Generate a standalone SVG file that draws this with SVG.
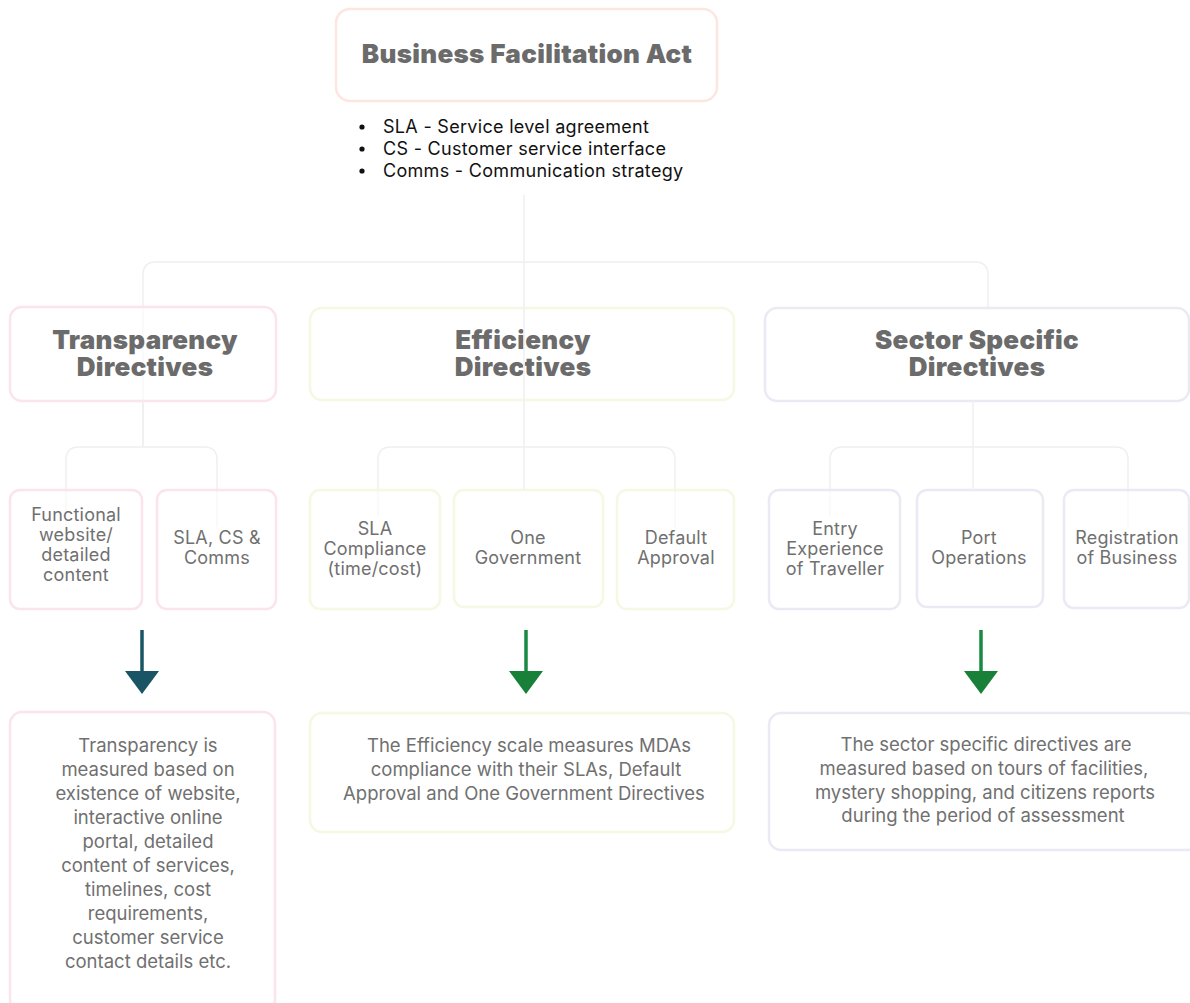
<svg xmlns="http://www.w3.org/2000/svg" width="1190" height="1003" viewBox="0 0 1190 1003">
<style>
.title{font-family:Inter,"Liberation Sans",sans-serif;font-weight:900;font-size:26px;letter-spacing:0.3px;fill:#6b6b6b;text-anchor:middle}
.txt{font-family:Inter,"Liberation Sans",sans-serif;font-size:18.5px;fill:#707070;text-anchor:middle}
.ch{font-family:Inter,"Liberation Sans",sans-serif;font-size:18px;letter-spacing:0.2px;fill:#707070;text-anchor:middle}
.bul{font-family:Inter,"Liberation Sans",sans-serif;font-size:18px;letter-spacing:0.3px;fill:#111}
.box{fill:#fff;stroke-width:2.5}
.t{stroke:#fbe4ec}
.e{stroke:#f5f8e2}
.s{stroke:#ece9f5}
.top{stroke:#fde6e0}
.conn{fill:none;stroke:#efefef;stroke-width:1.5}
</style>
<rect width="1190" height="1003" fill="#fff"/>
<g id="connectors">
<path class="conn" d="M524 195V262"/>
<path class="conn" d="M143 447V275Q143 262 156 262H975Q988 262 988 275V310"/>
<path class="conn" d="M66 527V460Q66 447 79 447H204Q217 447 217 460V527"/>
<path class="conn" d="M378 517V460Q378 447 391 447H662Q675 447 675 460V527"/>
<path class="conn" d="M830 517V460Q830 447 843 447H1115Q1128 447 1128 460V527"/>
</g>
<g id="top">
<rect class="box top" x="336" y="9" width="381" height="92" rx="14"/>
<text class="title" x="527" y="63">Business Facilitation Act</text>
</g>
<g id="legend">
<circle cx="362" cy="127" r="2.6" fill="#111"/>
<circle cx="362" cy="149" r="2.6" fill="#111"/>
<circle cx="362" cy="171" r="2.6" fill="#111"/>
<text class="bul" x="383" y="133">SLA - Service level agreement</text>
<text class="bul" x="383" y="155">CS - Customer service interface</text>
<text class="bul" x="383" y="177">Comms - Communication strategy</text>
</g>
<g id="transparency">
<rect class="box t" x="10" y="307" width="266" height="94" rx="12" fill-opacity="0.6"/>
<text class="title" x="145" y="349">Transparency</text>
<text class="title" x="145" y="376">Directives</text>
</g>
<g id="efficiency">
<rect class="box e" x="310" y="308" width="424" height="92" rx="12" fill-opacity="0.6"/>
<text class="title" x="523" y="349">Efficiency</text>
<text class="title" x="523" y="376">Directives</text>
</g>
<g id="sector">
<rect class="box s" x="765" y="308" width="424" height="93" rx="12" fill-opacity="0.6"/>
<text class="title" x="977" y="349">Sector Specific</text>
<text class="title" x="977" y="376">Directives</text>
</g>
<g id="t-functional">
<rect class="box t" x="10" y="490" width="132" height="119" rx="10" fill-opacity="0.6"/>
<text class="ch" x="76" y="521">Functional</text>
<text class="ch" x="76" y="541">website/</text>
<text class="ch" x="76" y="561">detailed</text>
<text class="ch" x="76" y="581">content</text>
</g>
<g id="t-sla">
<rect class="box t" x="157" y="490" width="119" height="119" rx="10" fill-opacity="0.6"/>
<text class="ch" x="217" y="544">SLA, CS &amp;</text>
<text class="ch" x="217" y="564">Comms</text>
</g>
<g id="e-sla">
<rect class="box e" x="310" y="490" width="130" height="119" rx="10" fill-opacity="0.6"/>
<text class="ch" x="375" y="535">SLA</text>
<text class="ch" x="375" y="555">Compliance</text>
<text class="ch" x="375" y="575">(time/cost)</text>
</g>
<g id="e-one">
<rect class="box e" x="454" y="490" width="149" height="117" rx="10" fill-opacity="0.6"/>
<text class="ch" x="528" y="544">One</text>
<text class="ch" x="528" y="564">Government</text>
</g>
<g id="e-default">
<rect class="box e" x="617" y="490" width="117" height="119" rx="10" fill-opacity="0.6"/>
<text class="ch" x="676" y="544">Default</text>
<text class="ch" x="676" y="564">Approval</text>
</g>
<g id="s-entry">
<rect class="box s" x="769" y="490" width="131" height="119" rx="10" fill-opacity="0.6"/>
<text class="ch" x="835" y="535">Entry</text>
<text class="ch" x="835" y="555">Experience</text>
<text class="ch" x="835" y="575">of Traveller</text>
</g>
<g id="s-port">
<rect class="box s" x="917" y="490" width="126" height="117" rx="10" fill-opacity="0.6"/>
<text class="ch" x="979" y="544">Port</text>
<text class="ch" x="979" y="564">Operations</text>
</g>
<g id="s-reg">
<rect class="box s" x="1064" y="490" width="125" height="118" rx="10" fill-opacity="0.6"/>
<text class="ch" x="1127" y="544">Registration</text>
<text class="ch" x="1127" y="564">of Business</text>
</g>
<path class="conn" d="M524 262V490M973 401V490M143 401V447"/>
<g id="arrows">
<path d="M142 630V673" stroke="#1a5565" stroke-width="3.5"/>
<path d="M125 671H159L142 694Z" fill="#1a5565"/>
<path d="M526 630V673" stroke="#1a8a43" stroke-width="3.5"/>
<path d="M509 671H543L526 694Z" fill="#188038"/>
<path d="M981 630V673" stroke="#1a8a43" stroke-width="3.5"/>
<path d="M964 671H998L981 694Z" fill="#188038"/>
</g>
<g id="t-desc">
<rect class="box t" x="10" y="712" width="265" height="300" rx="12"/>
<text class="txt" x="148" y="752">Transparency is</text>
<text class="txt" x="148" y="776">measured based on</text>
<text class="txt" x="148" y="800">existence of website,</text>
<text class="txt" x="148" y="824">interactive online</text>
<text class="txt" x="148" y="848">portal, detailed</text>
<text class="txt" x="148" y="872">content of services,</text>
<text class="txt" x="148" y="896">timelines, cost</text>
<text class="txt" x="148" y="920">requirements,</text>
<text class="txt" x="148" y="944">customer service</text>
<text class="txt" x="148" y="968">contact details etc.</text>
</g>
<g id="e-desc">
<rect class="box e" x="310" y="713" width="424" height="119" rx="12"/>
<text class="txt" x="529" y="752">The Efficiency scale measures MDAs</text>
<text class="txt" x="526" y="776">compliance with their SLAs, Default</text>
<text class="txt" x="524" y="800">Approval and One Government Directives</text>
</g>
<g id="s-desc">
<rect class="box s" x="769" y="713" width="430" height="137" rx="12"/>
<text class="txt" x="986" y="751">The sector specific directives are</text>
<text class="txt" x="984" y="775">measured based on tours of facilities,</text>
<text class="txt" x="985" y="799">mystery shopping, and citizens reports</text>
<text class="txt" x="983" y="822">during the period of assessment</text>
</g>
</svg>
